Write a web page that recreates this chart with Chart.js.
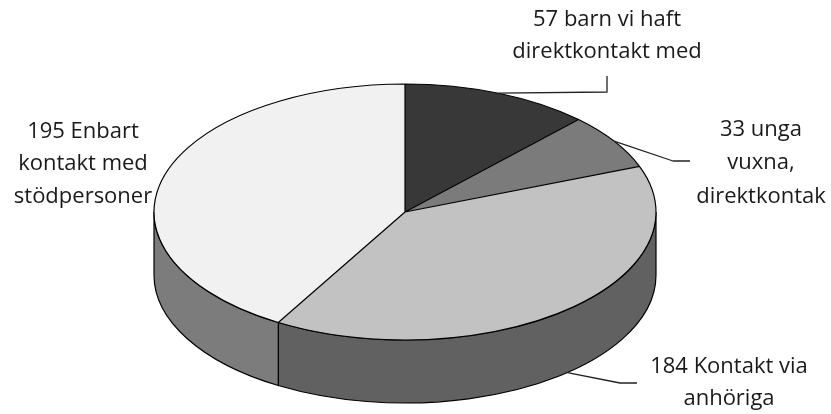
<!DOCTYPE html>
<html><head><meta charset="utf-8">
<script src="https://cdn.jsdelivr.net/npm/chart.js@4/dist/chart.umd.min.js"></script>
<style>html,body{margin:0;padding:0;background:#fff}#wrap{width:831px;height:414px;position:relative}</style>
</head><body><div id="wrap"><canvas id="c" width="831" height="414"></canvas></div>
<script>
// ---- data ----
const categories = ["57 barn vi haft direktkontakt med", "33 unga vuxna, direktkontak", "184 Kontakt via anhöriga", "195 Enbart kontakt med stödpersoner"];
const values = [57, 33, 184, 195];
const labelLines = [
  ["57 barn vi haft", "direktkontakt med"],
  ["33 unga", "vuxna,", "direktkontak"],
  ["184 Kontakt via", "anhöriga"],
  ["195 Enbart", "kontakt med", "stödpersoner"]
];

// ---- styles / layout ----
const topColors = ["#383838", "#7b7b7b", "#c2c2c2", "#f1f1f1"];
const sideColors = ["#222222", "#555555", "#616161", "#7c7c7c"];
const TILT = 128 / 251;
const DEPTH = 63;
const RADIUS = 251;
const labelLayout = [
  { x: 607, y: [20, 52], leader: { fromSide: false, pts: [[607, 92], [607, 76]] } },
  { x: 761, y: [130, 163, 197], leader: { fromSide: false, pts: [[673, 161], [690, 161]] } },
  { x: 729, y: [367, 399], leader: { fromSide: true, pts: [[620, 383], [637, 383]] } },
  { x: 83, y: [132, 164, 197], leader: null }
];

const pie3d = {
  id: 'pie3d',
  beforeDatasetsDraw(chart) {
    const ctx = chart.ctx;
    const arcs = chart.getDatasetMeta(0).data;
    const cx = arcs[0].x, cy = arcs[0].y, R = arcs[0].outerRadius, ry = R * TILT;
    arcs.forEach((arc, i) => {
      const s = arc.startAngle, e = arc.endAngle;
      for (const shift of [0, 2 * Math.PI, -2 * Math.PI]) {
        const a = Math.max(s + shift, 0), b = Math.min(e + shift, Math.PI);
        if (b > a) {
          ctx.beginPath();
          ctx.ellipse(cx, cy, R, ry, 0, a, b, false);
          ctx.ellipse(cx, cy + DEPTH, R, ry, 0, b, a, true);
          ctx.closePath();
          ctx.fillStyle = sideColors[i];
          ctx.fill();
          ctx.lineWidth = 1.2;
          ctx.strokeStyle = '#000';
          ctx.stroke();
        }
      }
    });
    ctx.save();
    ctx.translate(cx, cy);
    ctx.scale(1, TILT);
    ctx.translate(-cx, -cy);
  },
  afterDatasetsDraw(chart) {
    const ctx = chart.ctx;
    const arcs = chart.getDatasetMeta(0).data;
    const cx = arcs[0].x, cy = arcs[0].y, R = arcs[0].outerRadius;
    ctx.beginPath();
    arcs.forEach(arc => {
      ctx.moveTo(cx, cy);
      ctx.lineTo(cx + R * Math.cos(arc.startAngle), cy + R * Math.sin(arc.startAngle));
      ctx.arc(cx, cy, R, arc.startAngle, arc.endAngle);
      ctx.closePath();
    });
    ctx.restore();
    ctx.lineWidth = 1.2;
    ctx.strokeStyle = '#000';
    ctx.lineJoin = 'round';
    ctx.stroke();
  },
  afterDraw(chart) {
    const ctx = chart.ctx;
    const arcs = chart.getDatasetMeta(0).data;
    const cx = arcs[0].x, cy = arcs[0].y, R = arcs[0].outerRadius, ry = R * TILT;
    ctx.save();
    // leaders
    ctx.strokeStyle = '#222';
    ctx.lineWidth = 1.3;
    labelLayout.forEach((lay, i) => {
      if (!lay.leader) return;
      const arc = arcs[i];
      const mid = (arc.startAngle + arc.endAngle) / 2;
      const sx = cx + R * Math.cos(mid);
      const sy = cy + ry * Math.sin(mid) + (lay.leader.fromSide ? DEPTH : 0);
      ctx.beginPath();
      ctx.moveTo(sx, sy);
      lay.leader.pts.forEach(p => ctx.lineTo(p[0], p[1]));
      ctx.stroke();
    });
    // labels
    ctx.fillStyle = '#1a1a1a';
    ctx.font = '22px "Open Sans", Lato, sans-serif';
    ctx.textAlign = 'center';
    ctx.textBaseline = 'middle';
    labelLines.forEach((lines, i) => {
      lines.forEach((t, j) => ctx.fillText(t, labelLayout[i].x, labelLayout[i].y[j]));
    });
    ctx.restore();
  }
};

new Chart(document.getElementById('c'), {
  type: 'pie',
  data: {
    labels: categories,
    datasets: [{
      data: values,
      backgroundColor: topColors,
      borderWidth: 0,
      radius: RADIUS,
      clip: false
    }]
  },
  options: {
    responsive: false,
    animation: false,
    layout: { padding: { left: 0, right: 21, top: 10, bottom: 0 } },
    plugins: { legend: { display: false }, tooltip: { enabled: false } },
    events: []
  },
  plugins: [pie3d]
});
</script>
</body></html>
